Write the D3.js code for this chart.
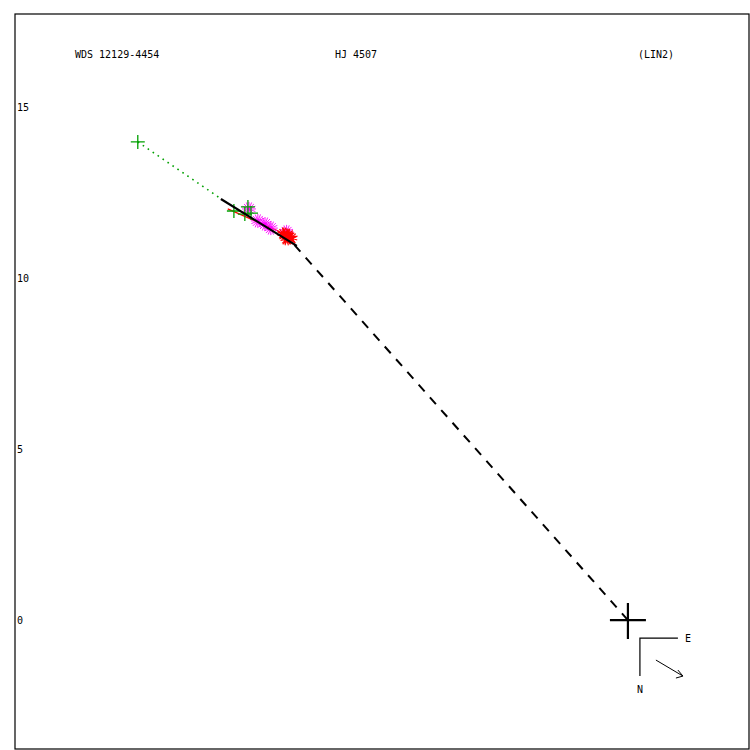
<!DOCTYPE html>
<html><head><meta charset="utf-8">
<script src="https://cdn.jsdelivr.net/npm/d3@7"></script>
<style>body{margin:0;background:#fff}svg{display:block}text{font-family:"DejaVu Sans Mono",monospace;font-size:10px;fill:#000}</style>
</head><body><svg id="c" width="750" height="750"></svg>
<script>
// Titles
const titles = ["WDS 12129-4454", "HJ 4507", "(LIN2)"];
const yTicks = [0, 5, 10, 15];
// Observations (arcsec offsets, x right, y up)
const greenObs = [[-14.33, 13.98], [-11.52, 11.96], [-11.20, 11.87], [-11.11, 12.08], [-11.02, 11.90]];
const magentaObs = [[-11.08, 12.02], [-10.82, 11.67], [-10.61, 11.58], [-10.44, 11.46], [-9.98, 11.35]];
const redObs = [[-10.06, 11.29], [-9.94, 11.26], [-9.85, 11.17], [-9.97, 11.14]];
// Linear fit segment
const fitLine = [[-11.90, 12.31], [-9.68, 10.94]];
// dashed line origin to end of fit
const dashLine = [[0, 0], [-9.77, 10.99]];
// residual red line
const redLine = [[-11.70, 12.02], [-10.17, 11.35]];
// dotted connector of first observation
const dotLine = [[-14.33, 13.98], [-11.93, 12.34]];

const svg = d3.select("#c");
const x = d3.scaleLinear().domain([-17.92, 3.54]).range([15, 749]);
const y = d3.scaleLinear().domain([-3.77, 17.72]).range([749, 14]);

// frame
svg.append("rect").attr("x", 15).attr("y", 14).attr("width", 734).attr("height", 735)
  .attr("fill", "none").attr("stroke", "#000").attr("stroke-width", 1.2);

// y axis labels
const ax = svg.append("g").attr("transform", `translate(${x.range()[0]},0)`)
  .call(d3.axisRight(y).tickValues(yTicks).tickSize(0).tickPadding(2).tickFormat(d3.format("d")));
ax.select(".domain").remove();
ax.selectAll("text").attr("font-family", "DejaVu Sans Mono").attr("font-size", 10).attr("fill", "#000");

// titles
const tx = [75, 335, 638];
svg.selectAll(".title").data(titles).join("text").attr("class", "title")
  .attr("x", (d, i) => tx[i]).attr("y", 55).attr("dominant-baseline", "middle").text(d => d);

const line = d3.line().x(d => x(d[0])).y(d => y(d[1]));

// dotted green
svg.append("path").attr("d", line(dotLine)).attr("stroke", "#00a000").attr("stroke-width", 1.6)
  .attr("stroke-dasharray", "1.6,4.4").attr("fill", "none");
// dashed black
svg.append("path").attr("d", line(dashLine)).attr("stroke", "#000").attr("stroke-width", 2)
  .attr("stroke-dasharray", "9,8").attr("fill", "none");

// red residual line
svg.append("path").attr("d", line(redLine)).attr("stroke", "#ff0000").attr("stroke-width", 1.3).attr("fill", "none");

// magenta asterisks
magentaObs.forEach(d => {
  const cx = x(d[0]), cy = y(d[1]), r = 7;
  let p = "";
  for (let k = 0; k < 8; k++) {
    const a = k * Math.PI / 8;
    p += `M${cx - r * Math.cos(a)},${cy - r * Math.sin(a)}L${cx + r * Math.cos(a)},${cy + r * Math.sin(a)}`;
  }
  svg.append("path").attr("d", p).attr("stroke", "#ff00ff").attr("stroke-width", 0.9);
});
// red stars
redObs.forEach(d => {
  const cx = x(d[0]), cy = y(d[1]);
  svg.append("path").attr("d", d3.symbol(d3.symbolStar, 60)()).attr("transform", `translate(${cx},${cy})`)
    .attr("fill", "#ff0000");
  let p = "", r = 6.5;
  for (let k = 0; k < 6; k++) {
    const a = k * Math.PI / 6 + 0.3;
    p += `M${cx - r * Math.cos(a)},${cy - r * Math.sin(a)}L${cx + r * Math.cos(a)},${cy + r * Math.sin(a)}`;
  }
  svg.append("path").attr("d", p).attr("stroke", "#ff0000").attr("stroke-width", 1.1);
});
// green pluses (drawn on top)
greenObs.forEach(d => {
  const cx = x(d[0]), cy = y(d[1]), r = 7;
  svg.append("path").attr("d", `M${cx - r},${cy}H${cx + r}M${cx},${cy - r}V${cy + r}`)
    .attr("stroke", "#00a000").attr("stroke-width", 1.3);
});
// fit line
svg.append("path").attr("d", line(fitLine)).attr("stroke", "#000").attr("stroke-width", 2.2).attr("fill", "none");

// origin primary
const ox = x(0), oy = y(0);
svg.append("path").attr("d", `M${ox - 18},${oy}H${ox + 18}M${ox},${oy - 17}V${oy + 19}`)
  .attr("stroke", "#000").attr("stroke-width", 2.2);

// compass
const cpx = ox + 12, cpy = oy + 18;
svg.append("path").attr("d", `M${cpx},${cpy + 38}V${cpy}H${cpx + 38}`).attr("stroke", "#000").attr("stroke-width", 1.2).attr("fill", "none");
svg.append("text").attr("x", cpx + 45).attr("y", cpy + 1).attr("dominant-baseline", "middle").text("E");
svg.append("text").attr("x", cpx - 3).attr("y", cpy + 52).attr("dominant-baseline", "middle").text("N");
const a0 = [cpx + 16, cpy + 22], a1 = [cpx + 43, cpy + 38];
svg.append("path").attr("d", `M${a0[0]},${a0[1]}L${a1[0]},${a1[1]}M${a1[0] - 5},${a1[1] - 6}L${a1[0]},${a1[1]}L${a1[0] - 7},${a1[1] + 2}`)
  .attr("stroke", "#000").attr("stroke-width", 1).attr("fill", "none");
</script></body></html>
